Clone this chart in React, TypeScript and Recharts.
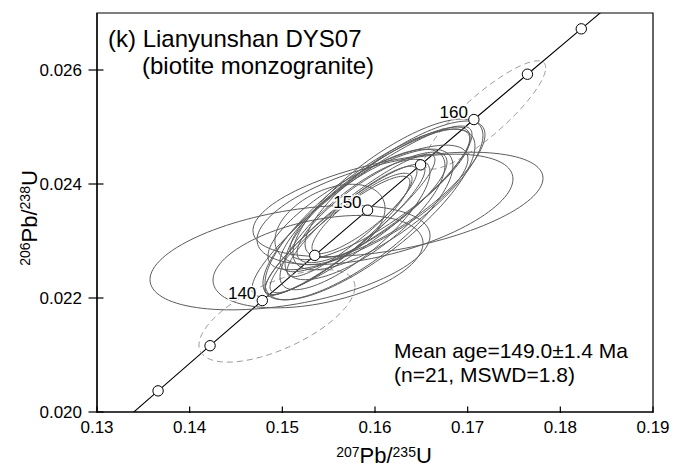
import React from 'react';
import * as R from 'recharts';

const { ComposedChart, XAxis, YAxis, Line, Scatter, ReferenceArea } = R as any;

// ---------- axes ----------
const X_DOMAIN = [0.13, 0.19];
const Y_DOMAIN = [0.02, 0.027];
const X_TICKS = [0.13, 0.14, 0.15, 0.16, 0.17, 0.18, 0.19];
const Y_TICKS = [0.02, 0.022, 0.024, 0.026];

// ---------- concordia (age in Ma, 207Pb/235U, 206Pb/238U) ----------
const concordiaAges = [125, 130, 135, 140, 145, 150, 155, 160, 165, 170, 175];
const concordiaX = [0.13101, 0.13659, 0.1422, 0.14784, 0.1535, 0.1592, 0.16492, 0.17067, 0.17645, 0.18226, 0.18809];
const concordiaY = [0.01958, 0.020371, 0.021163, 0.021955, 0.022748, 0.023541, 0.024336, 0.025131, 0.025926, 0.026722, 0.027519];
const markerAges = [130, 135, 140, 145, 150, 155, 160, 165, 170];
const labeledAges = [140, 150, 160];

// ---------- accepted analyses (2-sigma error ellipses) ----------
const solidX = [0.15083, 0.15385, 0.16248, 0.16108, 0.15514, 0.1586, 0.15946, 0.15816, 0.16, 0.1573, 0.15892, 0.16054, 0.15784, 0.15968, 0.15676, 0.1614, 0.15924, 0.15752, 0.16216, 0.15622, 0.1586];
const solidY = [0.022708, 0.022638, 0.023642, 0.023554, 0.02329, 0.023519, 0.023466, 0.02329, 0.02373, 0.02329, 0.023466, 0.023818, 0.02329, 0.023589, 0.023202, 0.023818, 0.023589, 0.023343, 0.023907, 0.023114, 0.023484];
const solidSx = [0.01511, 0.01133, 0.01565, 0.01381, 0.00594, 0.01187, 0.01133, 0.01025, 0.01025, 0.00917, 0.00863, 0.00971, 0.00809, 0.00809, 0.00863, 0.01025, 0.01079, 0.00701, 0.00971, 0.00755, 0.0054];
const solidSy = [0.000916, 0.000811, 0.000916, 0.000969, 0.000705, 0.001498, 0.001498, 0.001322, 0.001269, 0.001233, 0.001145, 0.001145, 0.001145, 0.000969, 0.001145, 0.001322, 0.001093, 0.000969, 0.001198, 0.001022, 0.000705];
const solidRho = [0.42, 0.4, 0.5, 0.55, 0.4, 0.9, 0.8, 0.78, 0.86, 0.92, 0.75, 0.84, 0.8, 0.82, 0.91, 0.78, 0.78, 0.9, 0.8, 0.9, 0.85];

// ---------- rejected analyses (dashed) ----------
const rejX = [0.14942, 0.17187];
const rejY = [0.021686, 0.025211];
const rejSx = [0.008417, 0.00655];
const rejSy = [0.000811, 0.00095];
const rejRho = [0.63, 0.87];

// ---------- texts ----------
const TITLE_1 = '(k) Lianyunshan DYS07';
const TITLE_2 = '(biotite monzogranite)';
const NOTE_1 = 'Mean age=149.0±1.4 Ma';
const NOTE_2 = '(n=21, MSWD=1.8)';

// ---------- layout ----------
const W = 691;
const H = 470;
const MARGIN = { top: 13, right: 38, left: 0, bottom: 0 };
const Y_AXIS_W = 97;
const X_AXIS_H = 58;
const FONT = '"Liberation Sans", Arial, Helvetica, sans-serif';

const concordiaData = concordiaAges.map((a, i) => ({ age: a, x: concordiaX[i], y: concordiaY[i] }));
const markerData = concordiaData.filter((d) => markerAges.includes(d.age));
const solidData = solidX.map((x, i) => ({ x, y: solidY[i], sx: solidSx[i], sy: solidSy[i], rho: solidRho[i] }));
const rejData = rejX.map((x, i) => ({ x, y: rejY[i], sx: rejSx[i], sy: rejSy[i], rho: rejRho[i] }));

const usePlotAreaSafe: any = (R as any).usePlotArea;

function usePixelsPerUnit() {
  const plot = typeof usePlotAreaSafe === 'function' ? usePlotAreaSafe() : undefined;
  const pw = plot && plot.width ? plot.width : W - MARGIN.left - MARGIN.right - Y_AXIS_W;
  const ph = plot && plot.height ? plot.height : H - MARGIN.top - MARGIN.bottom - X_AXIS_H;
  return {
    kx: pw / (X_DOMAIN[1] - X_DOMAIN[0]),
    ky: ph / (Y_DOMAIN[1] - Y_DOMAIN[0]),
  };
}

function EllipseShape(props: any) {
  const { cx, cy, payload, dashed } = props;
  const { kx, ky } = usePixelsPerUnit();
  if (cx == null || cy == null || !payload) return null;
  const { sx, sy, rho } = payload;
  const s = Math.sqrt(1 - rho * rho);
  const n = 120;
  let d = '';
  for (let i = 0; i <= n; i++) {
    const t = (2 * Math.PI * i) / n;
    const dx = sx * Math.cos(t);
    const dy = sy * (rho * Math.cos(t) + s * Math.sin(t));
    const px = cx + dx * kx;
    const py = cy - dy * ky;
    d += (i === 0 ? 'M' : 'L') + px.toFixed(2) + ',' + py.toFixed(2);
  }
  d += 'Z';
  return (
    <path
      d={d}
      fill="none"
      stroke={dashed ? '#9a9a9a' : '#5c5c5c'}
      strokeWidth={1}
      strokeDasharray={dashed ? '6 4' : undefined}
    />
  );
}

function MarkerShape(props: any) {
  const { cx, cy, payload } = props;
  if (cx == null || cy == null) return null;
  const lab = payload && labeledAges.includes(payload.age);
  return (
    <g>
      <circle cx={cx} cy={cy} r={5.2} fill="#fff" stroke="#000" strokeWidth={1} />
      {lab ? (
        <text
          x={cx - 6}
          y={cy - 2}
          textAnchor="end"
          fontSize={17}
          fontFamily={FONT}
          fill="#000"
          stroke="#fff"
          strokeWidth={3}
          paintOrder="stroke"
        >
          {payload.age}
        </text>
      ) : null}
    </g>
  );
}

function XTick(props: any) {
  const { x, y, payload } = props;
  return (
    <g>
      <line x1={x} x2={x} y1={y - 5.5} y2={y + 1} stroke="#000" strokeWidth={1.2} />
      <text x={x} y={y + 20.5} textAnchor="middle" fontSize={17} fontFamily={FONT} fill="#000">
        {Number(payload.value).toFixed(2)}
      </text>
    </g>
  );
}

function YTick(props: any) {
  const { x, y, payload } = props;
  return (
    <g>
      <line x1={x - 8.5} x2={x + 6.5} y1={y} y2={y} stroke="#000" strokeWidth={1.2} />
      <text x={x - 15} y={y + 6.2} textAnchor="end" fontSize={17} fontFamily={FONT} fill="#000">
        {Number(payload.value).toFixed(3)}
      </text>
    </g>
  );
}

export default function App() {
  return (
    <div style={{ position: 'absolute', left: 0, top: 0, width: W, height: H, background: '#fff' }}>
      <ComposedChart width={W} height={H} margin={MARGIN}>
        <XAxis
          type="number"
          dataKey="x"
          domain={X_DOMAIN}
          ticks={X_TICKS}
          allowDataOverflow
          height={X_AXIS_H}
          tickSize={0}
          tickMargin={0}
          tickLine={false}
          axisLine={{ stroke: '#000', strokeWidth: 1.2 }}
          tick={<XTick />}
          interval={0}
        />
        <YAxis
          type="number"
          dataKey="y"
          domain={Y_DOMAIN}
          ticks={Y_TICKS}
          allowDataOverflow
          width={Y_AXIS_W}
          tickSize={0}
          tickMargin={0}
          tickLine={false}
          axisLine={{ stroke: '#000', strokeWidth: 1.2 }}
          tick={<YTick />}
          interval={0}
        />
        <ReferenceArea
          x1={X_DOMAIN[0]}
          x2={X_DOMAIN[1]}
          y1={Y_DOMAIN[0]}
          y2={Y_DOMAIN[1]}
          fill="none"
          fillOpacity={0}
          stroke="#000"
          strokeWidth={1.2}
        />
        <Scatter
          data={rejData}
          dataKey="y"
          isAnimationActive={false}
          shape={(p: any) => <EllipseShape {...p} dashed />}
        />
        <Scatter
          data={solidData}
          dataKey="y"
          isAnimationActive={false}
          shape={(p: any) => <EllipseShape {...p} />}
        />
        <Line
          data={concordiaData}
          dataKey="y"
          type="linear"
          dot={false}
          activeDot={false}
          stroke="#000"
          strokeWidth={1.1}
          isAnimationActive={false}
        />
        <Scatter
          data={markerData}
          dataKey="y"
          isAnimationActive={false}
          shape={(p: any) => <MarkerShape {...p} />}
        />
      </ComposedChart>
      <svg
        width={W}
        height={H}
        style={{ position: 'absolute', left: 0, top: 0, pointerEvents: 'none' }}
      >
        <g fontFamily={FONT} fill="#000">
          <text x={108} y={47} fontSize={24}>{TITLE_1}</text>
          <text x={142} y={74} fontSize={24}>{TITLE_2}</text>
          <text x={394} y={357.5} fontSize={21}>{NOTE_1}</text>
          <text x={394} y={382} fontSize={21}>{NOTE_2}</text>
          <text x={384} y={463} textAnchor="middle">
            <tspan fontSize={14} dy={-6}>207</tspan>
            <tspan fontSize={22} dy={6}>Pb/</tspan>
            <tspan fontSize={14} dy={-6}>235</tspan>
            <tspan fontSize={22} dy={6}>U</tspan>
          </text>
          <text transform="translate(37,218) rotate(-90)" textAnchor="middle">
            <tspan fontSize={14} dy={-7}>206</tspan>
            <tspan fontSize={22} dy={7}>Pb/</tspan>
            <tspan fontSize={14} dy={-7}>238</tspan>
            <tspan fontSize={22} dy={7}>U</tspan>
          </text>
        </g>
      </svg>
    </div>
  );
}
